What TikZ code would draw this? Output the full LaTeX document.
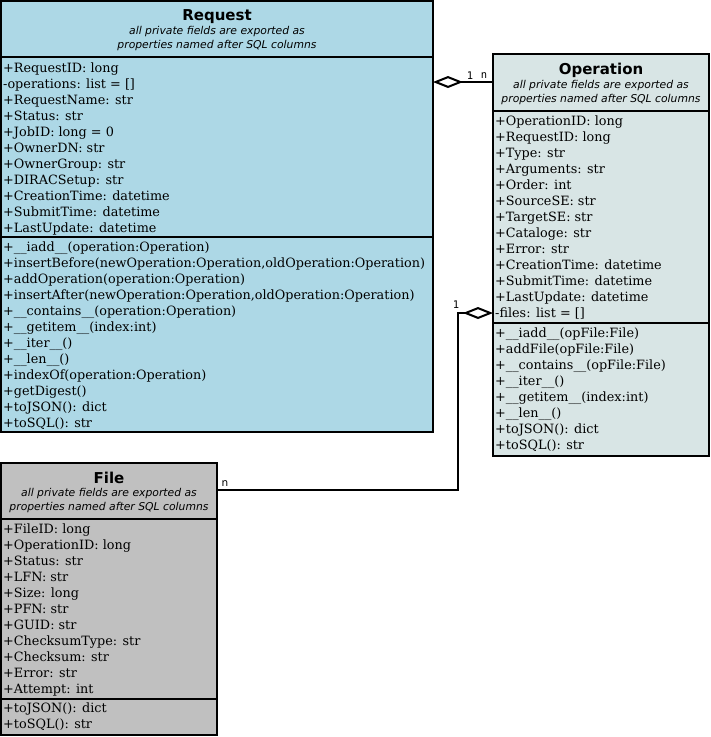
\documentclass[tikz,border=0pt]{standalone}
\usepackage{fontspec}
\setmainfont{DejaVu Serif}
\newfontfamily\ttlfont{DejaVu Sans}
\newfontfamily\lblmono{DejaVu Sans Mono}
\usetikzlibrary{arrows.meta}
\definecolor{reqfill}{RGB}{173,216,230}
\definecolor{opfill}{RGB}{216,229,229}
\definecolor{filefill}{RGB}{192,192,192}
\tikzset{
  classbox/.style={draw=black, line width=2pt, anchor=north west, inner sep=0pt, outer sep=0pt},
  sepline/.style={draw=black, line width=2pt},
  clsname/.style={font=\ttlfont\bfseries\fontsize{15}{17}\selectfont, inner sep=0pt, anchor=base},
  clsnote/.style={font=\ttlfont\itshape\fontsize{10.8}{13.5}\selectfont, align=center, inner sep=0pt, anchor=north},
  members/.style={font=\fontsize{12.8}{16}\selectfont, align=left, anchor=north west, inner sep=0pt},
  assoc/.style={draw=black, line width=2pt},
  agg/.style={{Diamond[open, fill=white, length=30pt, width=12pt]}-},
  multlbl/.style={font=\lblmono\fontsize{10.5}{12}\selectfont, inner sep=0pt},
  multsans/.style={font=\ttlfont\fontsize{10.5}{12}\selectfont, inner sep=0pt}
}
\begin{document}
\begin{tikzpicture}[x=1pt, y=-1pt]
\useasboundingbox (0,0) rectangle (711,737);

% ---------------- Request ----------------
\node[classbox, fill=reqfill, minimum width=432pt, minimum height=431pt] (req) at (1,1) {};
\draw[sepline] (req.west |- 0,57) -- (req.east |- 0,57);
\draw[sepline] (req.west |- 0,237) -- (req.east |- 0,237);
\node[clsname] (reqname) at (217,20) {Request};
\node[clsnote] (reqnote) at (217,26.5) {all private fields are exported as\\properties named after SQL columns};
\node[members] (reqattr) at (3,62.3) {+RequestID: long\\-operations: list = []\\+RequestName: str\\+Status: str\\+JobID: long = 0\\+OwnerDN: str\\+OwnerGroup: str\\+DIRACSetup: str\\+CreationTime: datetime\\+SubmitTime: datetime\\+LastUpdate: datetime};
\node[members] (reqmeth) at (3,241.3) {+\_\_iadd\_\_(operation:Operation)\\+insertBefore(newOperation:Operation,oldOperation:Operation)\\+addOperation(operation:Operation)\\+insertAfter(newOperation:Operation,oldOperation:Operation)\\+\_\_contains\_\_(operation:Operation)\\+\_\_getitem\_\_(index:int)\\+\_\_iter\_\_()\\+\_\_len\_\_()\\+indexOf(operation:Operation)\\+getDigest()\\+toJSON(): dict\\+toSQL(): str};

% ---------------- Operation ----------------
\node[classbox, fill=opfill, minimum width=216pt, minimum height=402pt] (op) at (493,54) {};
\draw[sepline] (op.west |- 0,111) -- (op.east |- 0,111);
\draw[sepline] (op.west |- 0,323) -- (op.east |- 0,323);
\node[clsname] (opname) at (601,74) {Operation};
\node[clsnote] (opnote) at (601,80.5) {all private fields are exported as\\properties named after SQL columns};
\node[members] (opattr) at (495,115.3) {+OperationID: long\\+RequestID: long\\+Type: str\\+Arguments: str\\+Order: int\\+SourceSE: str\\+TargetSE: str\\+Cataloge: str\\+Error: str\\+CreationTime: datetime\\+SubmitTime: datetime\\+LastUpdate: datetime\\-files: list = []};
\node[members] (opmeth) at (495,327.3) {+\_\_iadd\_\_(opFile:File)\\+addFile(opFile:File)\\+\_\_contains\_\_(opFile:File)\\+\_\_iter\_\_()\\+\_\_getitem\_\_(index:int)\\+\_\_len\_\_()\\+toJSON(): dict\\+toSQL(): str};

% ---------------- File ----------------
\node[classbox, fill=filefill, minimum width=216pt, minimum height=272pt] (file) at (1,463) {};
\draw[sepline] (file.west |- 0,519) -- (file.east |- 0,519);
\draw[sepline] (file.west |- 0,699) -- (file.east |- 0,699);
\node[clsname] (filename) at (109,483) {File};
\node[clsnote] (filenote) at (109,488.5) {all private fields are exported as\\properties named after SQL columns};
\node[members] (fileattr) at (3,523.3) {+FileID: long\\+OperationID: long\\+Status: str\\+LFN: str\\+Size: long\\+PFN: str\\+GUID: str\\+ChecksumType: str\\+Checksum: str\\+Error: str\\+Attempt: int};
\node[members] (filemeth) at (3,702.3) {+toJSON(): dict\\+toSQL(): str};

% ---------------- connectors ----------------
\coordinate (bend) at (458,490);
\draw[assoc, agg] (req.east |- 0,82) -- (op.west |- 0,82);
\node[multlbl] (m1) at (470,76) {1};
\node[multlbl] (m2) at (484,76) {n};

\draw[assoc, agg] (op.west |- 0,313) -- (bend |- 0,313) -- (bend) -- (file.east |- bend);
\node[multlbl] (m3) at (456,305) {1};
\node[multsans] (m4) at (225,484) {n};
\end{tikzpicture}
\end{document}
